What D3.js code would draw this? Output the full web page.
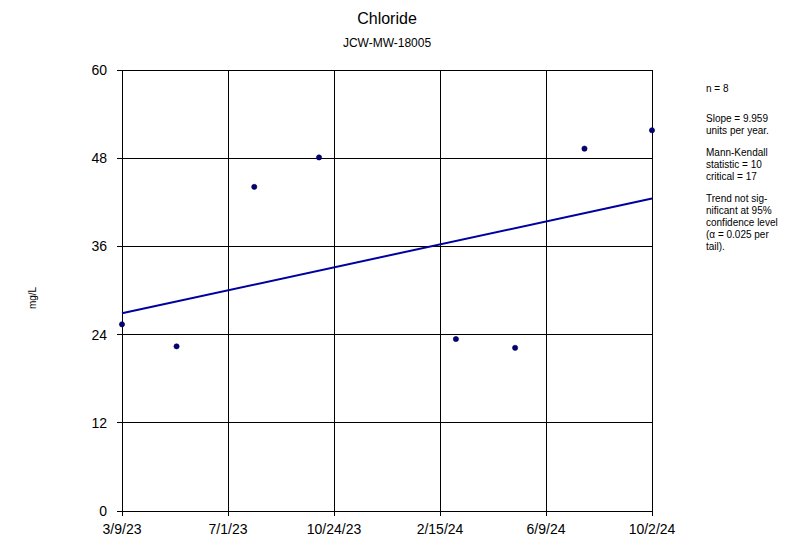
<!DOCTYPE html>
<html><head><meta charset="utf-8">
<script src="https://cdn.jsdelivr.net/npm/d3@7"></script>
<style>body{margin:0;background:#fff;} text{font-family:"Liberation Sans",Arial,sans-serif;}</style>
</head><body>
<svg id="c" width="789" height="543"></svg>
<script>
const sampleDates = ["2023-03-09","2023-05-07","2023-07-30","2023-10-08","2024-03-04","2024-05-07","2024-07-21","2024-10-02"];
const chlorideValues = [25.4, 22.4, 44.1, 48.1, 23.4, 22.2, 49.3, 51.8];
const xTickLabels = ["3/9/23","7/1/23","10/24/23","2/15/24","6/9/24","10/2/24"];
const yTickValues = [0, 12, 24, 36, 48, 60];
const trendStartValue = 26.9;   // value of trend line at first sample date
const slopePerYear = 9.959;
const statsLines = [["n = 8"],["Slope = 9.959","units per year."],["Mann-Kendall","statistic = 10","critical = 17"],["Trend not sig-","nificant at 95%","confidence level","(\u03b1 = 0.025 per","tail)."]];

const parse = d3.timeParse("%Y-%m-%d");
const dates = sampleDates.map(parse);
const svg = d3.select("#c");
const L = 122, R = 652, T = 70, B = 511;
const x0 = dates[0], x1 = dates[dates.length-1];
const x = d3.scaleTime().domain([x0, x1]).range([L, R]);
const y = d3.scaleLinear().domain([0, 60]).range([B, T]);
const span = x1 - x0;
const tickDates = xTickLabels.map((_, i) => new Date(+x0 + span * i / (xTickLabels.length - 1)));

// grid
svg.append("g").selectAll("line.v").data(tickDates).join("line")
  .attr("x1", d => x(d)).attr("x2", d => x(d)).attr("y1", T).attr("y2", B + 5)
  .attr("stroke", "#000").attr("stroke-width", 1).attr("shape-rendering","crispEdges");
svg.append("g").selectAll("line.h").data(yTickValues).join("line")
  .attr("x1", L - 5).attr("x2", R).attr("y1", d => y(d)).attr("y2", d => y(d))
  .attr("stroke", "#000").attr("stroke-width", 1).attr("shape-rendering","crispEdges");

// tick labels
svg.append("g").selectAll("text").data(yTickValues).join("text")
  .attr("x", 107).attr("y", d => y(d) + 5).attr("text-anchor", "end")
  .attr("font-size", 14).text(d => d);
svg.append("g").selectAll("text").data(tickDates).join("text")
  .attr("x", d => x(d)).attr("y", 534).attr("text-anchor", "middle")
  .attr("font-size", 14).text((d, i) => xTickLabels[i]);

// trend
const msPerYear = 365.25 * 24 * 3600 * 1000;
svg.append("line")
  .attr("x1", x(x0)).attr("y1", y(trendStartValue))
  .attr("x2", x(x1)).attr("y2", y(trendStartValue + slopePerYear * span / msPerYear))
  .attr("stroke", "#0000a0").attr("stroke-width", 2);

// points
svg.append("g").selectAll("circle").data(dates).join("circle")
  .attr("cx", d => x(d)).attr("cy", (d, i) => y(chlorideValues[i])).attr("r", 2.6)
  .attr("fill", "#000080").attr("stroke", "#000033").attr("stroke-width", 0.6);

// titles
svg.append("text").attr("x", 387).attr("y", 24).attr("text-anchor", "middle").attr("font-size", 16).text("Chloride");
svg.append("text").attr("x", 387).attr("y", 47).attr("text-anchor", "middle").attr("font-size", 12).text("JCW-MW-18005");
svg.append("text").attr("transform", "translate(36,298) rotate(-90)").attr("text-anchor", "middle").attr("font-size", 10).text("mg/L");

// stats
let yy = 92;
const st = svg.append("g");
statsLines.forEach((block, bi) => {
  block.forEach(line => {
    st.append("text").attr("x", 706).attr("y", yy).attr("font-size", 10).text(line);
    yy += 12;
  });
  yy += bi === 0 ? 18 : 10;
});
</script>
</body></html>
